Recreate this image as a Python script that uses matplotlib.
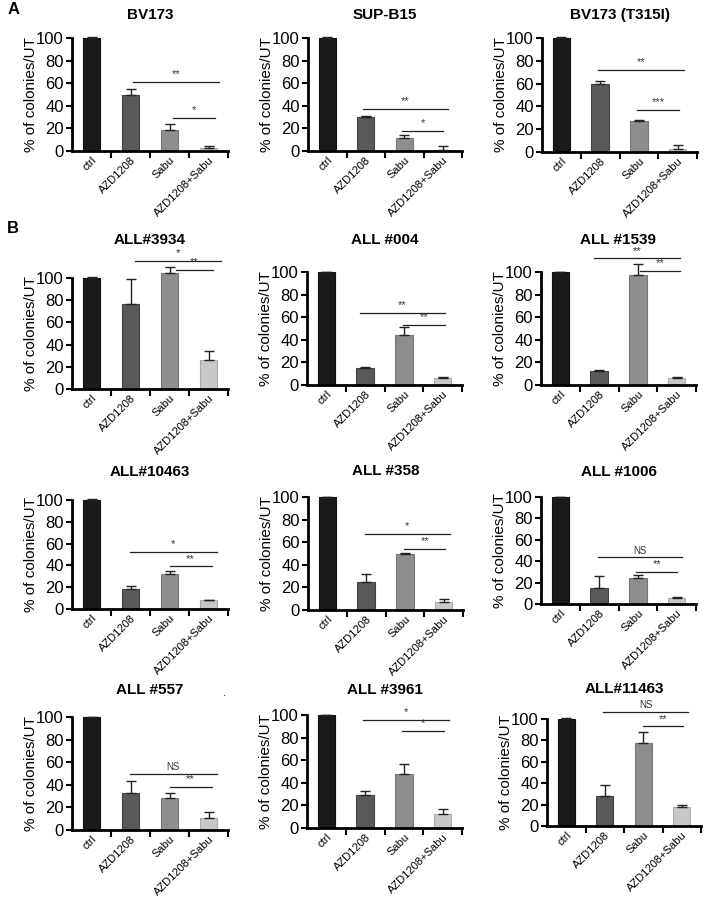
import matplotlib.pyplot as plt
import numpy as np

plt.rcParams['font.family'] = ['Liberation Sans', 'DejaVu Sans']

categories = ["ctrl", "AZD1208", "Sabu", "AZD1208+Sabu"]
panel_titles = ["BV173", "SUP-B15", "BV173 (T315I)",
                "ALL#3934", "ALL #004", "ALL #1539",
                "ALL#10463", "ALL #358", "ALL #1006",
                "ALL #557", "ALL #3961", "ALL#11463"]

means = [[100, 50, 19, 2.5],
         [100, 30, 11.5, 1],
         [100, 60, 27.5, 3],
         [100, 77, 104.5, 26],
         [100, 15, 44, 6],
         [100, 12.5, 97, 6],
         [100, 18, 32, 8],
         [100, 25, 49.5, 7.5],
         [100, 14.5, 24.5, 5.5],
         [100, 33, 28.5, 10.5],
         [100, 29, 47.5, 12],
         [100, 28.5, 78, 18]]
errors = [[0.8, 4.5, 5, 1.5],
          [0.8, 1, 2.5, 3.5],
          [0.8, 2, 1, 3.5],
          [0.8, 22, 5, 8],
          [0, 0.5, 7, 1],
          [0, 1, 10, 1],
          [0.8, 3.5, 3, 0.5],
          [0, 6.5, 0.8, 2],
          [0, 12, 2.5, 1],
          [0, 10, 4, 5],
          [0, 3.5, 9, 4.5],
          [0.8, 10, 9.5, 1.5]]

# significance brackets: (x start, x end, y, label)
sig_long = [(1.07, 3.28, 61, "**"), (0.92, 3.14, 37, "**"), (0.94, 3.17, 72, "**"),
            (1.12, 3.32, 115, "*"), (0.86, 3.06, 64, "**"), (0.88, 3.09, 112, "**"),
            (0.99, 3.21, 52, "*"), (0.96, 3.16, 67, "*"), (0.96, 3.14, 44, "NS"),
            (0.99, 3.21, 50, "NS"), (0.94, 3.17, 96, "*"), (0.96, 3.17, 107, "NS")]
sig_short = [(2.1, 3.17, 29.5, "*"), (1.94, 3.01, 18, "*"), (1.96, 3.04, 37, "***"),
             (2.17, 3.12, 107.5, "**"), (1.99, 3.06, 53, "**"), (2.06, 3.09, 101, "**"),
             (2.0, 3.08, 39, "**"), (1.99, 3.04, 54, "**"), (1.96, 3.01, 30, "**"),
             (2.0, 3.08, 38, "**"), (1.96, 3.04, 86, "*"), (1.99, 3.04, 93, "**")]

colors = ["#1a1a1a", "#595959", "#8e8e8e", "#c8c8c8"]
edges = ["#111111", "#444444", "#777777", "#aaaaaa"]

W, H = 706, 900
fig = plt.figure(figsize=(W / 100, H / 100), dpi=100)

# panel geometry in pixels: left, width, y of 100, y of 0
ax_left = [72, 308, 542, 72, 307, 541, 72, 308, 541, 72, 307, 547]
ax_wid = [156, 154, 155, 156, 155, 155, 156, 155, 155, 156, 155, 154]
ax_top = [38, 38, 38, 278, 272, 272, 500, 497, 497, 717, 715, 719]
ax_bot = [151, 151, 152, 389, 385, 385, 609, 610, 604, 830, 828, 826]
title_y = [15, 15, 15, 240, 240, 240, 472, 471, 472, 690, 690, 689]

x = np.arange(4)
for i in range(12):
    ax = fig.add_axes([ax_left[i] / W, 1 - ax_bot[i] / H,
                       ax_wid[i] / W, (ax_bot[i] - ax_top[i]) / H])
    ax.bar(x, means[i], width=0.45, color=colors, edgecolor=edges,
           linewidth=0.8, clip_on=False, zorder=2)
    ax.errorbar(x, means[i], yerr=[np.zeros(4), errors[i]], fmt='none',
                ecolor='#222222', elinewidth=1, capsize=3.5, capthick=1,
                clip_on=False, zorder=3)
    ax.set_xlim(-0.5, 3.5)
    ax.set_ylim(0, 100)
    ax.set_yticks([0, 20, 40, 60, 80, 100])
    ax.tick_params(axis='y', labelsize=12, direction='out', length=4, width=1.5, pad=2)
    ax.set_xticks([0.5, 1.5, 2.5, 3.5])
    ax.set_xticklabels([])
    ax.tick_params(axis='x', which='major', direction='out', length=5, width=1.5)
    ax.set_xticks(x, minor=True)
    ax.set_xticklabels(categories, minor=True, rotation=45, ha='right',
                       va='top', rotation_mode='anchor', fontsize=8)
    ax.tick_params(axis='x', which='minor', length=0, pad=3)
    for s in ['top', 'right']:
        ax.spines[s].set_visible(False)
    for s in ['left', 'bottom']:
        ax.spines[s].set_linewidth(2)
    ax.set_ylabel("% of colonies/UT", fontsize=11)
    ax.yaxis.set_label_coords(-34 / ax_wid[i], 0.5)

    for (x0, x1, y, lab) in (sig_long[i], sig_short[i]):
        ax.plot([x0, x1], [y, y], color='#222222', lw=0.9, clip_on=False)
        off = 1 if lab == "NS" else 2
        fs = 7 if lab == "NS" else 8
        ax.annotate(lab, xy=((x0 + x1) / 2, y), xytext=(0, off),
                    textcoords='offset points', ha='center', va='bottom',
                    fontsize=fs, color='#333333', annotation_clip=False)

    cx = (ax_left[i] + ax_wid[i] / 2) / W
    fig.text(cx, 1 - title_y[i] / H, panel_titles[i], ha='center', va='center',
             fontsize=11, fontweight='bold')

fig.text(8 / W, 1 - 10 / H, "A", fontsize=12, fontweight='bold', ha='left', va='center')
fig.text(7 / W, 1 - 228 / H, "B", fontsize=12, fontweight='bold', ha='left', va='center')
fig.text(224 / W, 1 - 693 / H, ".", fontsize=8, ha='center', va='center')

fig.savefig("out.png", dpi=100)
